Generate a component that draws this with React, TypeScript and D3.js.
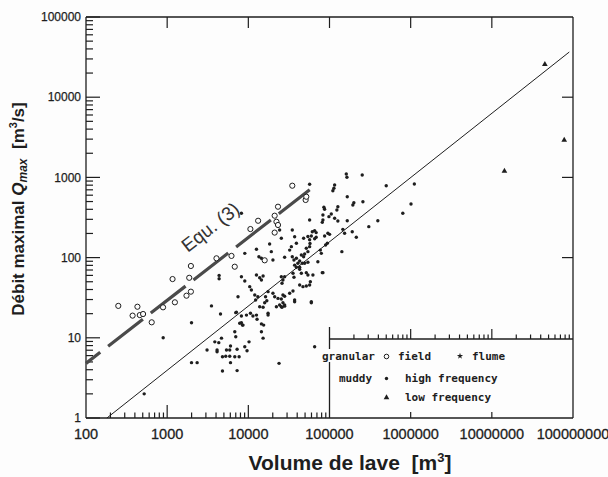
import { useMemo } from "react";
import * as d3 from "d3";

// granular debris flows, field observations [volume m3, peak discharge m3/s]
const granularField: [number, number][] = [
  [250, 25], [430, 24.4], [375, 18.9], [460, 19.2], [505, 19.8], [645, 15.6],
  [890, 24], [1165, 54], [1245, 27.7], [1730, 33.5], [1960, 37.6], [1870, 56],
  [1960, 78.6], [4050, 98], [6200, 105], [6800, 77], [10600, 227], [13200, 288],
  [15900, 92.5], [21100, 333], [21100, 205], [23200, 431], [22200, 280],
  [23200, 255], [34800, 788], [50800, 523], [51800, 574],
];

// muddy, high frequency
const muddyHigh: [number, number][] = [
  [521, 2.0], [893, 10.0], [1995, 15.4], [1995, 4.9], [2340, 4.9], [3100, 7.05],
  [3515, 25], [4540, 19.8], [3865, 8.9], [4325, 8.7], [4120, 7.05], [4120, 6.7],
  [4670, 9.9], [4800, 5.8], [4800, 3.86], [5380, 7.05], [5900, 7.05], [5270, 5.9],
  [5900, 5.9], [6030, 4.9], [6030, 7.9], [6810, 11.9], [7000, 10.3], [7270, 7.2],
  [6810, 5.8], [7700, 5.8], [7270, 3.9], [7000, 20.6], [9040, 7.75], [9640, 6.9],
  [8220, 15.4], [8450, 14.4], [10200, 8.9], [8220, 18.7], [9480, 19.2],
  [10620, 20.2], [11400, 18.7], [12600, 19.2], [12800, 17], [14500, 11.9],
  [15200, 9.9], [17500, 19.2], [23900, 4.8], [65600, 7.75], [15900, 27.4],
  [26700, 27.4], [28000, 25.6], [37200, 28.2], [59700, 27.4],
  [8220, 357], [4365, 60], [4365, 54.6], [9040, 113], [12600, 127], [13500, 102.6],
  [14500, 98], [19200, 118.6], [20100, 93.3], [25500, 174], [24300, 221],
  [34800, 221], [56900, 294], [56900, 820], [8220, 57.8], [9040, 51], [10400, 43.4],
  [10900, 39.4], [12600, 60.7], [15200, 59], [13800, 56], [14500, 52.6],
  [7460, 32.5], [7130, 20.8], [7830, 15.2], [8600, 14.4], [12000, 34.2],
  [13100, 32.5], [13800, 24.4], [15200, 24], [17500, 20.2], [14500, 14.9],
  [15450, 14.4], [23200, 31], [25500, 30.5], [22170, 24.4], [25500, 24.4],
  [26000, 47.8], [26700, 52.6], [28000, 57.8], [35500, 38.4], [32300, 124],
  [33900, 137], [39100, 151], [34800, 102.6], [36500, 93.3], [40800, 85],
  [42900, 90.7], [45000, 107.7], [48000, 102.6], [51800, 130.6], [54200, 118.6],
  [56900, 137], [59700, 186], [42900, 71.5], [45000, 63.7], [54200, 60.7],
  [62500, 60.7], [58100, 50], [42900, 45.5], [47100, 43.4], [83000, 64.9],
  [59700, 28.2], [20100, 35.9], [21100, 32.5], [17500, 37.6],
  [115700, 804], [113300, 731], [110000, 682], [161000, 1102], [164000, 1003],
  [253000, 1071], [500000, 788], [1110000, 827], [1010000, 466], [800000, 357],
  [394000, 288], [305000, 243], [258000, 498], [199500, 484], [194000, 453],
  [165500, 574], [126800, 431], [123300, 392], [85300, 424], [87000, 400],
  [105200, 350], [115700, 309], [98400, 324], [83000, 294], [83000, 340],
  [165500, 288], [126800, 286], [190600, 210], [146000, 225], [153500, 201],
  [142000, 118.6], [214000, 179], [65600, 217], [95500, 201], [100200, 195],
  [87000, 186], [89500, 143.6], [94000, 151], [77100, 124], [79300, 113],
  [71900, 88.9], [81500, 64.9], [49400, 111], [57500, 150], [61400, 210],
  [48000, 174], [37200, 182], [39100, 98], [42900, 75.7], [35500, 63.7],
  [36500, 56.8], [51800, 44.3], [56900, 45.5], [32300, 35.9], [37200, 29.6],
  [81500, 275], [65600, 172], [18300, 148], [12300, 29.6], [16300, 32.5],
  [16900, 29], [25500, 57.8], [26700, 34.2], [28000, 33], [24300, 25.6],
  [26000, 24], [28000, 24.8], [37200, 80.5], [39100, 75.7], [46300, 85],
  [51800, 64.9], [49400, 85], [54200, 87.5], [54200, 183], [56900, 167],
  [68500, 179], [68500, 205], [28000, 101],
];

// muddy, low frequency (large lahars)
const muddyLow: [number, number][] = [
  [4.5e7, 25700], [7.8e7, 2925], [1.43e7, 1200],
];

// thin regression line and the thick dashed Equ. (3)
const fitLine: [number, number][] = [[181, 1], [9.0e7, 36600]];
const equLine: [number, number][] = [[100, 4.8], [57000, 700]];

const xTickValues = [100, 1000, 10000, 100000, 1000000, 10000000, 100000000];
const yTickValues = [1, 10, 100, 1000, 10000, 100000];

const W = 608;
const H = 477;
const INK = "#1e1e1e";
const BG = "#fdfdfd";
const FONT = "'Liberation Sans', Arial, Helvetica, sans-serif";
const MONO = "'DejaVu Sans Mono', 'Liberation Mono', monospace";

function minors(lo: number, hi: number): number[] {
  const out: number[] = [];
  for (let d = lo; d < hi; d *= 10) {
    for (let k = 2; k <= 9; k++) out.push(d * k);
  }
  return out;
}

export default function App(): JSX.Element {
  const x = useMemo(() => d3.scaleLog().domain([100, 1e8]).range([86, 573]), []);
  const y = useMemo(() => d3.scaleLog().domain([1, 1e5]).range([418, 17]), []);

  const left = x(100);
  const right = x(1e8);
  const top = y(1e5);
  const bottom = y(1);
  const legX = x(1e5);
  const legTop = 339;

  const line = d3
    .line<[number, number]>()
    .x((d) => x(d[0]))
    .y((d) => y(d[1]));

  const tri = d3.symbol(d3.symbolTriangle, 14)();
  const star = d3.symbol(d3.symbolStar, 12)();

  // Equ. (3) label sits along the dashed line
  const eqAngle =
    (Math.atan2(y(equLine[1][1]) - y(equLine[0][1]), x(equLine[1][0]) - x(equLine[0][0])) *
      180) /
    Math.PI;

  return (
    <svg
      width={W}
      height={H}
      style={{ position: "absolute", left: 0, top: 0, background: BG }}
      fontFamily={FONT}
    >
      {/* frame */}
      <g stroke={INK} strokeWidth={1.3} fill="none">
        <line x1={left} x2={left} y1={top} y2={bottom} />
        <line x1={left} x2={right} y1={top} y2={top} />
        <line x1={right} x2={right} y1={top} y2={bottom} />
        <line x1={left} x2={right} y1={bottom} y2={bottom} />
        {/* legend box */}
        <line x1={legX} x2={right} y1={legTop} y2={legTop} />
        <line x1={legX} x2={legX} y1={legTop - 12} y2={bottom} />
      </g>

      {/* left axis ticks */}
      <g stroke={INK} strokeWidth={1.2}>
        {yTickValues.map((v) => (
          <line key={`ly${v}`} x1={left} x2={left + 14} y1={y(v)} y2={y(v)} />
        ))}
        {minors(1, 1e5).map((v) => (
          <line key={`lm${v}`} x1={left} x2={left + 7} y1={y(v)} y2={y(v)} />
        ))}
        {/* right axis ticks */}
        {[100, 1000, 10000].map((v) => (
          <line key={`ry${v}`} x1={right} x2={right - 11} y1={y(v)} y2={y(v)} />
        ))}
        {/* top axis ticks */}
        {xTickValues.slice(1, -1).map((v) => (
          <line key={`tx${v}`} x1={x(v)} x2={x(v)} y1={top} y2={top + 11} />
        ))}
        {/* bottom axis ticks */}
        {[1000, 10000].map((v) => (
          <line key={`bx${v}`} x1={x(v)} x2={x(v)} y1={bottom} y2={bottom - 13} />
        ))}
        {minors(100, 1e5).map((v) => (
          <line key={`bm${v}`} x1={x(v)} x2={x(v)} y1={bottom} y2={bottom - 5.5} />
        ))}
        {/* axis copy on the legend top */}
        {[1e6, 1e7].map((v) => (
          <line key={`gx${v}`} x1={x(v)} x2={x(v)} y1={legTop} y2={legTop - 10} />
        ))}
        {minors(1e5, 1e8).map((v) => (
          <line key={`gm${v}`} x1={x(v)} x2={x(v)} y1={legTop} y2={legTop - 4.5} />
        ))}
        {[1e6, 1e7].map((v) => (
          <line key={`lb${v}`} x1={x(v)} x2={x(v)} y1={bottom} y2={bottom - 6} />
        ))}
      </g>

      {/* tick labels */}
      <g fill={INK} fontSize={12} stroke={INK} strokeWidth={0.25}>
        {yTickValues.map((v) => (
          <text key={`yl${v}`} x={left - 5} y={y(v)} dy="0.35em" textAnchor="end">
            {String(v)}
          </text>
        ))}
      </g>
      <g fill={INK} fontSize={14.5} stroke={INK} strokeWidth={0.3}>
        {xTickValues.map((v) => (
          <text key={`xl${v}`} x={x(v)} y={439} textAnchor="middle">
            {String(v)}
          </text>
        ))}
      </g>

      {/* axis titles */}
      <text
        transform="translate(24,209) rotate(-90)"
        textAnchor="middle"
        fontSize={17}
        fontWeight={700}
        fill={INK}
      >
        Débit maximal <tspan fontStyle="italic">Q</tspan>
        <tspan fontStyle="italic" fontSize={12} dy={3}>
          max
        </tspan>
        <tspan dy={-3}>{"\u00a0\u00a0[m"}</tspan>
        <tspan fontSize={11} dy={-7}>
          3
        </tspan>
        <tspan dy={7}>/s]</tspan>
      </text>
      <text x={350} y={470} textAnchor="middle" fontSize={21} fontWeight={700} fill={INK}>
        Volume de lave{"\u00a0\u00a0"}[m
        <tspan fontSize={13} dy={-8}>
          3
        </tspan>
        <tspan dy={8}>]</tspan>
      </text>

      {/* lines */}
      <path d={line(fitLine) ?? ""} stroke={INK} strokeWidth={1} fill="none" />
      <path
        d={line(equLine) ?? ""}
        stroke="#4a4a4a"
        strokeWidth={3.2}
        fill="none"
        strokeDasharray="44 10"
        strokeDashoffset={26}
      />
      <text
        transform={`translate(${x(3400)},${y(240)}) rotate(${eqAngle})`}
        textAnchor="middle"
        dy="0.35em"
        fontSize={19}
        fill="#333"
      >
        Equ. (3)
      </text>

      {/* points */}
      <g fill={INK}>
        {muddyHigh.map((d, i) => (
          <circle key={`h${i}`} cx={x(d[0])} cy={y(d[1])} r={1.7} />
        ))}
        {muddyLow.map((d, i) => (
          <path key={`l${i}`} d={tri ?? ""} transform={`translate(${x(d[0])},${y(d[1])})`} />
        ))}
      </g>
      <g fill={BG} stroke={INK} strokeWidth={1}>
        {granularField.map((d, i) => (
          <circle key={`g${i}`} cx={x(d[0])} cy={y(d[1])} r={2.6} />
        ))}
      </g>

      {/* legend */}
      <rect x={321} y={349} width={55} height={13} fill={BG} />
      <g fontFamily={MONO} fontSize={11} fontWeight={700} fill={INK}>
        <text x={322} y={360}>granular</text>
        <text x={398} y={360}>field</text>
        <text x={472} y={360}>flume</text>
        <text x={339} y={382}>muddy</text>
        <text x={405} y={382}>high frequency</text>
        <text x={405} y={401}>low frequency</text>
      </g>
      <circle cx={386.5} cy={356.5} r={2.3} fill="none" stroke={INK} strokeWidth={1} />
      <path d={star ?? ""} transform="translate(460,356)" fill={INK} />
      <circle cx={386.5} cy={378.5} r={1.7} fill={INK} />
      <path d={tri ?? ""} transform="translate(386.5,397.5)" fill={INK} />
    </svg>
  );
}
